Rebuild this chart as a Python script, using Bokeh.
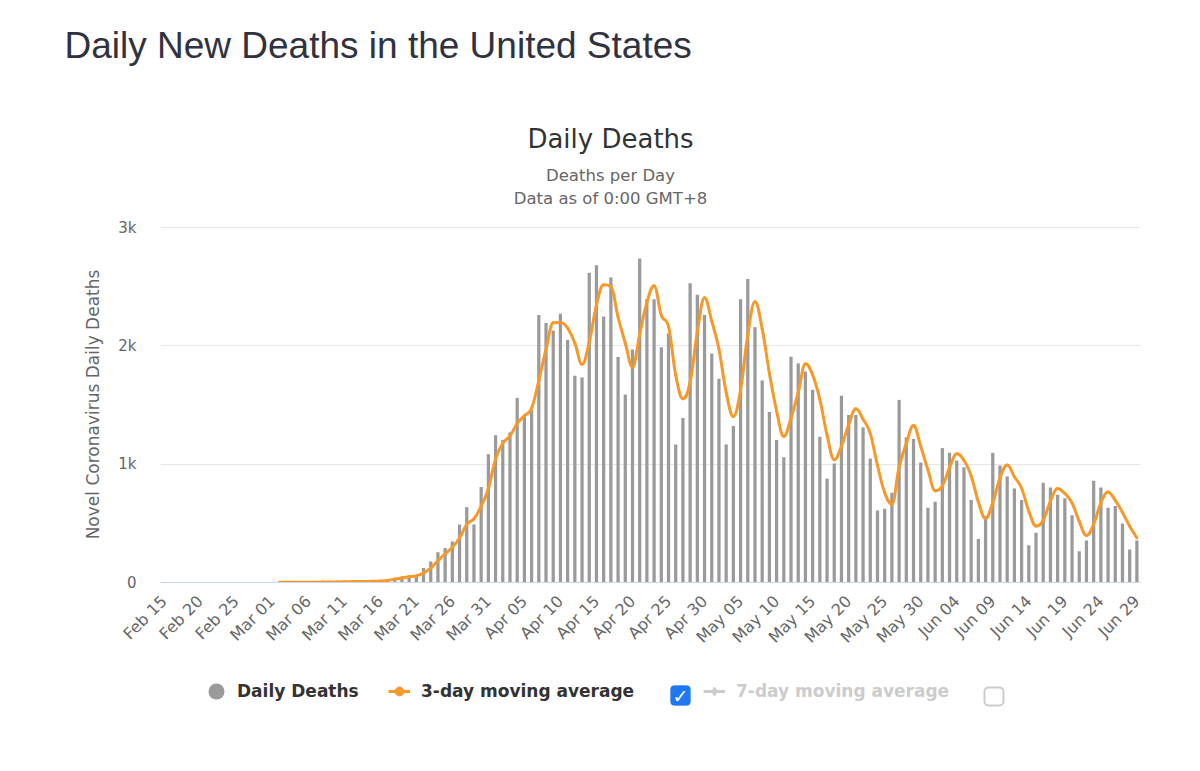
import numpy as np
import pandas as pd
from bokeh.plotting import figure
from bokeh.layouts import column
from bokeh.models import (Range1d, FixedTicker, Label, Legend, LegendItem,
                          BoxAnnotation, Title)
from bokeh.embed import file_html
from bokeh.resources import INLINE

# ---------------- data ----------------
axis_start = "2020-02-15"
axis_end = "2020-06-29"
series_start = "2020-02-29"

deaths_feb = [1]  # Feb 29
deaths_mar = [1, 4, 3, 2, 1, 3, 3, 4, 4, 5,
              8, 7, 10, 9, 12, 18, 23, 40, 50, 57,
              62, 122, 178, 255, 292, 346, 490, 637, 490, 807,
              1085]
deaths_apr = [1244, 1204, 1269, 1561, 1402, 1459, 2261, 2195, 2130, 2272,
              2051, 1748, 1734, 2620, 2683, 2249, 2578, 1907, 1589, 1969,
              2739, 2394, 2394, 1989, 2105, 1167, 1391, 2530, 2433, 2261]
deaths_may = [1935, 1722, 1167, 1323, 2394, 2567, 2159, 1708, 1442, 1204,
              1059, 1909, 1853, 1785, 1629, 1232, 878, 1006, 1578, 1416,
              1416, 1312, 1048, 609, 623, 759, 1544, 1227, 1213, 1014,
              632]
deaths_jun = [683, 1136, 1096, 1031, 974, 698, 368, 562, 1096, 989,
              897, 795, 698, 315, 420, 843, 803, 741, 712, 568,
              265, 356, 860, 803, 632, 647, 499, 278, 356]

daily_deaths = deaths_feb + deaths_mar + deaths_apr + deaths_may + deaths_jun

x_tick_labels = ["Feb 15", "Feb 20", "Feb 25", "Mar 01", "Mar 06", "Mar 11",
                 "Mar 16", "Mar 21", "Mar 26", "Mar 31", "Apr 05", "Apr 10",
                 "Apr 15", "Apr 20", "Apr 25", "Apr 30", "May 05", "May 10",
                 "May 15", "May 20", "May 25", "May 30", "Jun 04", "Jun 09",
                 "Jun 14", "Jun 19", "Jun 24", "Jun 29"]
y_ticks = [0, 1000, 2000, 3000]
y_tick_labels = ["0", "1k", "2k", "3k"]

page_title = "Daily New Deaths in the United States"
chart_title = "Daily Deaths"
chart_subtitles = ["Deaths per Day", "Data as of 0:00 GMT+8"]
y_axis_title = "Novel Coronavirus Daily Deaths"
series_names = ["Daily Deaths", "3-day moving average", "7-day moving average"]

# ---------------- derived positions ----------------
axis_dates = pd.date_range(axis_start, axis_end, freq="D")
day_labels = list(axis_dates.strftime("%b %d"))
offset = day_labels.index(pd.Timestamp(series_start).strftime("%b %d"))
xs = np.arange(offset, offset + len(daily_deaths))
ma3 = pd.Series(daily_deaths, dtype=float).rolling(3).mean().to_numpy()
x_tick_pos = [day_labels.index(lbl) for lbl in x_tick_labels]

# smooth spline (Highcharts-like) control points for the moving average
valid = ~np.isnan(ma3)
mx = xs[valid].astype(float)
my = ma3[valid]
n = len(mx)
lcx, lcy, rcx, rcy = mx.copy(), my.copy(), mx.copy(), my.copy()
sm = 1.5
den = sm + 1
for i in range(1, n - 1):
    px, py = mx[i], my[i]
    lx, ly = mx[i - 1], my[i - 1]
    nx, ny = mx[i + 1], my[i + 1]
    a_x = (sm * px + lx) / den
    a_y = (sm * py + ly) / den
    b_x = (sm * px + nx) / den
    b_y = (sm * py + ny) / den
    corr = (b_y - a_y) * (b_x - px) / (b_x - a_x) + py - b_y
    a_y += corr
    b_y += corr
    if a_y > ly and a_y > py:
        a_y = max(ly, py); b_y = 2 * py - a_y
    elif a_y < ly and a_y < py:
        a_y = min(ly, py); b_y = 2 * py - a_y
    if b_y > ny and b_y > py:
        b_y = max(ny, py); a_y = 2 * py - b_y
    elif b_y < ny and b_y < py:
        b_y = min(ny, py); a_y = 2 * py - b_y
    lcx[i], lcy[i], rcx[i], rcy[i] = a_x, a_y, b_x, b_y

# ---------------- styling constants ----------------
ORANGE = "#F7992A"
BAR = "#9a9a9a"
LIGHT = "#cccccc"
FONT = "DejaVu Sans"
W = 1176
FL = 160        # left edge of the plot frames (shared by the stacked figures)
TOP_H = 214
LEG_H = 80


def blank_fig(height):
    f = figure(frame_width=W, height=height,
               x_range=Range1d(0, W), y_range=Range1d(0, height),
               x_axis_type=None, y_axis_type=None,
               output_backend="svg", toolbar_location=None, tools="",
               min_border=0, min_border_left=0, min_border_right=0,
               min_border_top=0, min_border_bottom=0,
               background_fill_color="white", border_fill_color="white")
    f.outline_line_color = None
    f.grid.visible = False
    return f


# ---------------- title area ----------------
top = blank_fig(TOP_H)
top.add_layout(Title(text=page_title, align="left", offset=64 - FL,
                     vertical_align="top", standoff=49,
                     text_font="Liberation Sans", text_font_size="37px",
                     text_font_style="normal", text_color="#30333f"), "above")


def add_label(fig, text, x, y, size, color, font=FONT, align="center"):
    fig.add_layout(Label(x=x - FL, y=y, x_units="screen", y_units="screen",
                         text=text, text_font=font, text_font_size=size,
                         text_color=color, text_align=align,
                         text_baseline="alphabetic"))


add_label(top, chart_title, 610, TOP_H - 138, "26px", "#333333")
add_label(top, chart_subtitles[0], 610, TOP_H - 175, "16.5px", "#666666")
add_label(top, chart_subtitles[1], 610, TOP_H - 198, "16.5px", "#666666")

# ---------------- main chart ----------------
p = figure(frame_width=980, frame_height=356,
           x_range=Range1d(-0.5, len(day_labels) - 0.5),
           y_range=Range1d(0, 3010),
           output_backend="svg", toolbar_location=None, tools="",
           min_border_left=FL, min_border_top=12,
           min_border_right=36, min_border_bottom=75,
           background_fill_color="white", border_fill_color="white")
p.outline_line_color = None
p.xgrid.visible = False
p.ygrid.grid_line_color = "#e6e6e6"
p.ygrid.grid_line_width = 1

bars = p.vbar(x=xs, top=daily_deaths, width=0.45, fill_color=BAR,
              line_color=None)
ma_line = p.bezier(x0=mx[:-1], y0=my[:-1], x1=mx[1:], y1=my[1:],
                   cx0=rcx[:-1], cy0=rcy[:-1], cx1=lcx[1:], cy1=lcy[1:],
                   line_color=ORANGE, line_width=3, line_cap="round",
                   line_join="round")

p.yaxis.ticker = FixedTicker(ticks=y_ticks)
p.yaxis.major_label_overrides = dict(zip(y_ticks, y_tick_labels))
p.yaxis.axis_line_color = None
p.yaxis.major_tick_line_color = None
p.yaxis.minor_tick_line_color = None
p.yaxis.major_label_standoff = 18
p.yaxis.major_label_text_font = FONT
p.yaxis.major_label_text_font_size = "15px"
p.yaxis.major_label_text_color = "#666666"
p.yaxis.axis_label = y_axis_title
p.yaxis.axis_label_text_font = FONT
p.yaxis.axis_label_text_font_size = "17px"
p.yaxis.axis_label_text_font_style = "normal"
p.yaxis.axis_label_text_color = "#666666"
p.yaxis.axis_label_standoff = 12

p.xaxis.ticker = FixedTicker(ticks=x_tick_pos)
p.xaxis.major_label_overrides = dict(zip(x_tick_pos, x_tick_labels))
p.xaxis.axis_line_color = "#ccd6eb"
p.xaxis.major_tick_line_color = None
p.xaxis.minor_tick_line_color = None
p.xaxis.major_label_orientation = np.pi / 4
p.xaxis.major_label_standoff = 10
p.xaxis.major_label_text_font = FONT
p.xaxis.major_label_text_font_size = "16px"
p.xaxis.major_label_text_color = "#666666"

# ---------------- legend row ----------------
leg = blank_fig(LEG_H)
LEG_MID = 46  # legend centre, pixels above the bottom of this strip
nan = [float("nan")]

d_bar = leg.scatter(x=nan, y=nan, marker="circle", size=16, fill_color=BAR,
                    line_color=None)
d_ma3_line = leg.line(x=nan, y=nan, line_color=ORANGE, line_width=3)
d_ma3_pt = leg.scatter(x=nan, y=nan, marker="circle", size=9,
                       fill_color=ORANGE, line_color=ORANGE)
d_ma7_line = leg.line(x=nan, y=nan, line_color=LIGHT, line_width=3)
d_ma7_pt = leg.scatter(x=nan, y=nan, marker="diamond", size=9,
                       fill_color=LIGHT, line_color=LIGHT)


def make_legend(label, renderers, x0, g, standoff, color):
    lg = Legend(items=[LegendItem(label=label, renderers=renderers)],
                location=(x0, LEG_MID - g / 2), orientation="horizontal",
                glyph_width=g, glyph_height=g, label_standoff=standoff,
                padding=0, margin=0, spacing=0,
                border_line_color=None, background_fill_alpha=0,
                label_text_font=FONT, label_text_font_style="bold",
                label_text_font_size="17px", label_text_color=color)
    leg.add_layout(lg)


make_legend(series_names[0], [d_bar], 196, 40, 1, "#333333")
make_legend(series_names[1], [d_ma3_line, d_ma3_pt], 388, 22, 11, "#333333")
make_legend(series_names[2], [d_ma7_line, d_ma7_pt], 703, 22, 11, LIGHT)

# checkboxes (checked one for the 3-day average, empty one for the 7-day)
leg.add_layout(BoxAnnotation(left=670 - FL, right=690 - FL, top=52, bottom=32,
                             fill_color="#1E78F0", fill_alpha=1,
                             line_color="#1E78F0", border_radius=4))
leg.add_layout(Label(x=680 - FL, y=42, text="\u2713",
                     text_align="center", text_baseline="middle",
                     text_color="white", text_font=FONT,
                     text_font_size="19px", text_font_style="bold"))
leg.add_layout(BoxAnnotation(left=984 - FL, right=1003 - FL, top=50, bottom=32,
                             fill_color="white", fill_alpha=1,
                             line_color="#555555", line_width=2,
                             border_radius=4))

layout = column(top, p, leg, spacing=0)
open("out.html", "w").write(file_html(layout, INLINE))
